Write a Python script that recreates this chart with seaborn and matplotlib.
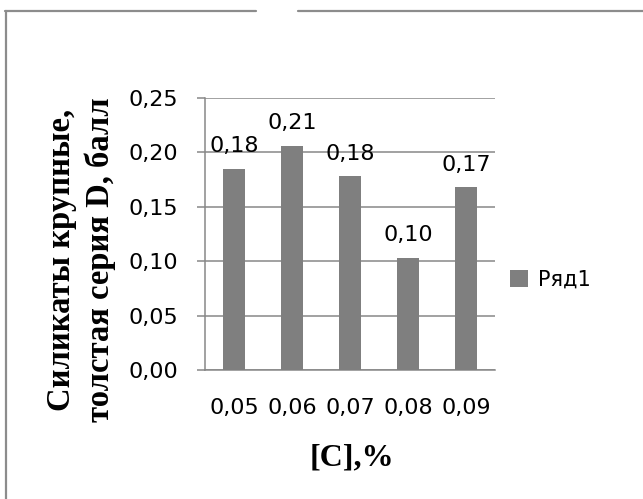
import matplotlib
matplotlib.use("Agg")
import matplotlib.pyplot as plt
import seaborn as sns
import pandas as pd
from matplotlib.lines import Line2D

categories = ["0,05", "0,06", "0,07", "0,08", "0,09"]
values = [0.185, 0.206, 0.178, 0.103, 0.168]
value_labels = ["0,18", "0,21", "0,18", "0,10", "0,17"]
yticks = [0.0, 0.05, 0.10, 0.15, 0.20, 0.25]
ytick_labels = ["0,00", "0,05", "0,10", "0,15", "0,20", "0,25"]
series_name = "Ряд1"
ylabel = "Силикаты крупные,\nтолстая серия D, балл"
xlabel = "[C],%"

sns.set_style("white")
plt.rcParams["font.family"] = ["DejaVu Sans"]
plt.rcParams["text.color"] = "black"
plt.rcParams["xtick.color"] = "black"
plt.rcParams["ytick.color"] = "black"

W, H = 643, 499
fs = 16
fig = plt.figure(figsize=(W / 100, H / 100), dpi=100)
ax = fig.add_axes([205 / W, 1 - 370 / H, 290 / W, 272 / H])

df = pd.DataFrame({"c": categories, "v": values})
grey = "#7f7f7f"
line_grey = "#878787"
sns.barplot(data=df, x="c", y="v", color=grey, width=0.37, ax=ax,
            saturation=1, label=series_name, zorder=3, linewidth=0,
            edgecolor=grey)

ax.set_ylim(0, 0.25)
ax.set_yticks(yticks)
ax.set_yticklabels(ytick_labels)
ax.yaxis.grid(True, color=line_grey, linewidth=1.1, zorder=0)
ax.xaxis.grid(False)
ax.set_axisbelow(True)
for s in ["top", "right"]:
    ax.spines[s].set_visible(False)
for s in ["left", "bottom"]:
    ax.spines[s].set_color(line_grey)
    ax.spines[s].set_linewidth(1.1)
ax.tick_params(axis="y", left=True, length=6, width=1.1, color=line_grey,
               labelcolor="black", pad=13, labelsize=fs)
ax.tick_params(axis="x", bottom=False, length=0, pad=20, labelsize=fs,
               labelcolor="black")
ax.set_xlabel("")
ax.set_ylabel("")

ax.bar_label(ax.containers[0], labels=value_labels, padding=9, fontsize=fs,
             color="black")

leg = ax.legend(loc="center left", bbox_to_anchor=(510 / W, 1 - 280 / H),
                bbox_transform=fig.transFigure, frameon=False, fontsize=15,
                handlelength=0.85, handleheight=0.85, handletextpad=0.5,
                borderpad=0, borderaxespad=0)
for t in leg.get_texts():
    t.set_color("black")

fig.text(81 / W, 1 - 260 / H, ylabel, rotation=90, ha="center", va="center",
         multialignment="center", fontsize=23.5, fontweight="bold",
         family="Liberation Serif", linespacing=1.3, color="black")
fig.text(352 / W, 1 - 458 / H, xlabel, ha="center", va="center",
         fontsize=23, fontweight="bold", family="Liberation Serif",
         color="black")

# outer frame (top with gap, left)
bc = "#8c8c8c"
fig.add_artist(Line2D([5 / W, 256 / W], [1 - 10.5 / H, 1 - 10.5 / H],
                      transform=fig.transFigure, color=bc, linewidth=1.6))
fig.add_artist(Line2D([298 / W, 1], [1 - 10.5 / H, 1 - 10.5 / H],
                      transform=fig.transFigure, color=bc, linewidth=1.6))
fig.add_artist(Line2D([6 / W, 6 / W], [0, 1 - 10.5 / H],
                      transform=fig.transFigure, color=bc, linewidth=1.6))

fig.savefig("out.png", dpi=100)
